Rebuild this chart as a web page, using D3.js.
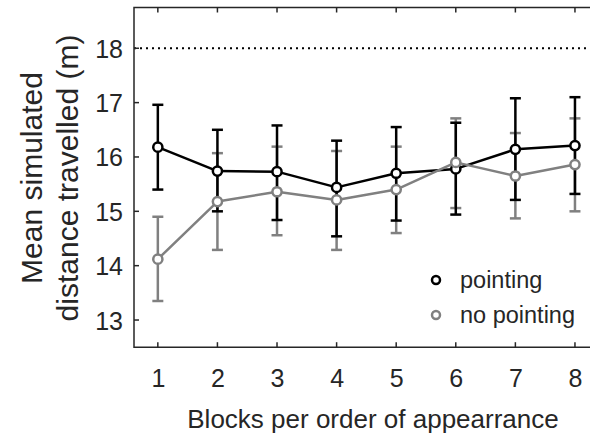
<!DOCTYPE html>
<html>
<head>
<meta charset="utf-8">
<script src="https://cdn.jsdelivr.net/npm/d3@7"></script>
<style>
  html, body { margin: 0; padding: 0; background: #fff; }
  svg { display: block; }
  text { font-family: "Liberation Sans", Arial, sans-serif; fill: #262626; }
</style>
</head>
<body>
<svg id="chart" width="590" height="435"></svg>
<script>
const blocks = [1, 2, 3, 4, 5, 6, 7, 8];
const pointingMean  = [16.18, 15.74, 15.73, 15.44, 15.70, 15.78, 16.14, 16.21];
const pointingLow   = [15.40, 15.00, 14.84, 14.54, 14.83, 14.94, 15.21, 15.32];
const pointingHigh  = [16.96, 16.50, 16.58, 16.30, 16.55, 16.63, 17.08, 17.10];
const noPointMean   = [14.12, 15.18, 15.36, 15.21, 15.40, 15.90, 15.65, 15.86];
const noPointLow    = [13.35, 14.29, 14.56, 14.29, 14.60, 15.06, 14.87, 15.00];
const noPointHigh   = [14.90, 16.07, 16.19, 16.11, 16.19, 16.71, 16.44, 16.71];
const yTicks = [13, 14, 15, 16, 17, 18];
const referenceLine = 18;
const seriesNames = ["pointing", "no pointing"];
const seriesColors = ["#000000", "#808080"];

(function () {
const svg = d3.select("#chart");
const x = d3.scaleLinear().domain([0.6, 8.4]).range([134, 598.8]);
const y = d3.scaleLinear().domain([12.5, 18.75]).range([347.2, 7.5]);
const axisColor = "#262626";

const series = [
  { name: seriesNames[0], color: seriesColors[0], mean: pointingMean, lo: pointingLow, hi: pointingHigh },
  { name: seriesNames[1], color: seriesColors[1], mean: noPointMean, lo: noPointLow, hi: noPointHigh }
];

// reference dotted line
svg.append("line")
  .attr("x1", x(0.6)).attr("x2", 590)
  .attr("y1", y(referenceLine)).attr("y2", y(referenceLine))
  .attr("stroke", "#000").attr("stroke-width", 2)
  .attr("stroke-dasharray", "2,4");

// axes frame
const pLeft = x.range()[0], pRight = x.range()[1];
const pTop = y.range()[1], pBottom = y.range()[0];
svg.append("path")
  .attr("d", `M${pRight},${pTop}H${pLeft}V${pBottom}H${pRight}`)
  .attr("fill", "none").attr("stroke", axisColor).attr("stroke-width", 1.5);

// bottom axis
const xAxis = d3.axisBottom(x).tickValues(blocks).tickFormat(d3.format("d")).tickSize(0).tickPadding(0);
const gx = svg.append("g").attr("transform", `translate(0,${pBottom})`).call(xAxis);
gx.select(".domain").remove();
gx.selectAll("text").attr("dy", null).attr("y", 40).style("font-size", "25px").attr("fill", axisColor);
blocks.forEach(b => {
  svg.append("line").attr("x1", x(b)).attr("x2", x(b)).attr("y1", pBottom).attr("y2", pBottom - 5)
    .attr("stroke", axisColor).attr("stroke-width", 1.5);
  svg.append("line").attr("x1", x(b)).attr("x2", x(b)).attr("y1", pTop).attr("y2", pTop + 5)
    .attr("stroke", axisColor).attr("stroke-width", 1.5);
});

// left axis
const yAxis = d3.axisLeft(y).tickValues(yTicks).tickFormat(d3.format("d")).tickSize(0).tickPadding(11);
const gy = svg.append("g").attr("transform", `translate(${pLeft},0)`).call(yAxis);
gy.select(".domain").remove();
gy.selectAll("text").attr("dy", "0.36em").style("font-size", "25px").attr("fill", axisColor);
yTicks.forEach(t => {
  svg.append("line").attr("x1", pLeft).attr("x2", pLeft + 5).attr("y1", y(t)).attr("y2", y(t))
    .attr("stroke", axisColor).attr("stroke-width", 1.5);
});

// axis labels
svg.append("text").attr("x", 373).attr("y", 428).attr("text-anchor", "middle")
  .style("font-size", "26px").text("Blocks per order of appearrance");
const yl = svg.append("g").attr("transform", `translate(0,178) rotate(-90)`);
yl.append("text").attr("x", 0).attr("y", 42).attr("text-anchor", "middle")
  .style("font-size", "30px").text("Mean simulated");
yl.append("text").attr("x", 0).attr("y", 78).attr("text-anchor", "middle")
  .style("font-size", "30px").text("distance travelled (m)");

// error bars: grey first, then black
const cap = 5.5;
[series[1], series[0]].forEach(s => {
  const g = svg.append("g").attr("stroke", s.color).attr("stroke-width", 2.5).attr("fill", "none");
  blocks.forEach((b, i) => {
    g.append("line").attr("x1", x(b)).attr("x2", x(b)).attr("y1", y(s.lo[i])).attr("y2", y(s.hi[i]));
    g.append("line").attr("x1", x(b) - cap).attr("x2", x(b) + cap).attr("y1", y(s.lo[i])).attr("y2", y(s.lo[i]));
    g.append("line").attr("x1", x(b) - cap).attr("x2", x(b) + cap).attr("y1", y(s.hi[i])).attr("y2", y(s.hi[i]));
  });
});

// lines + markers: black then grey
const line = d3.line().x((d, i) => x(blocks[i])).y(d => y(d));
[series[0], series[1]].forEach(s => {
  svg.append("path").datum(s.mean).attr("d", line)
    .attr("fill", "none").attr("stroke", s.color).attr("stroke-width", 2.5).attr("stroke-linejoin", "round");
  svg.append("g").selectAll("circle").data(s.mean).join("circle")
    .attr("cx", (d, i) => x(blocks[i])).attr("cy", d => y(d)).attr("r", 4.6)
    .attr("fill", "#fff").attr("stroke", s.color).attr("stroke-width", 2.5);
});

// legend
const legendY = [280, 315];
series.forEach((s, i) => {
  svg.append("circle").attr("cx", 436).attr("cy", legendY[i]).attr("r", 4)
    .attr("fill", "#fff").attr("stroke", s.color).attr("stroke-width", 2.5);
  svg.append("text").attr("x", 460).attr("y", legendY[i] + 7.5)
    .style("font-size", "23.5px").attr("fill", "#000").text(s.name);
});
})();
</script>
</body>
</html>
